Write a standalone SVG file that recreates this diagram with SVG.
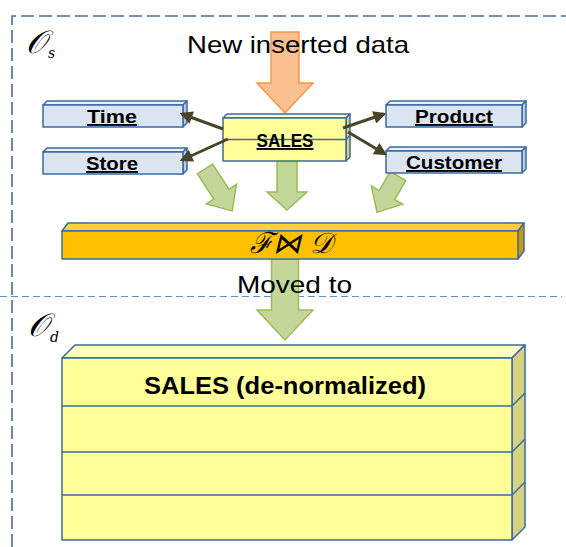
<svg xmlns="http://www.w3.org/2000/svg" width="566" height="547" viewBox="0 0 566 547">
<defs>
<style>
.frame{fill:none;stroke:#4a6d96;stroke-width:1.6;stroke-dasharray:13 5}
.split{fill:none;stroke:#5b8fd0;stroke-width:1.2;stroke-dasharray:7 4}
.edge{stroke:#3d6aa0;stroke-width:1.5;stroke-linejoin:round}
.dimF{fill:#dbe5f1}.dimT{fill:#eaf0f8}.dimR{fill:#b8cce4}
.yF{fill:#ffff99}.yT{fill:#ffffc4}.yR{fill:#d6d282}
.gF{fill:#ffc000}.gT{fill:#ffd040}.gR{fill:#c99a10}
.lbl{font-family:"Liberation Sans",Arial,sans-serif;font-weight:bold;font-size:19px;text-anchor:middle;text-decoration:underline;fill:#000}
.cap{font-family:"Liberation Sans",Arial,sans-serif;font-size:24px;text-anchor:middle;fill:#000}
.script{font-family:"DejaVu Serif","Liberation Serif",serif;font-style:italic;fill:#000}
.green{fill:#c4d79b;stroke:#9bbb59;stroke-width:1.5;stroke-linejoin:miter}
.orange{fill:#fac08f;stroke:#f79646;stroke-width:1.5}
.link{stroke:#4a452a;stroke-width:3;fill:none;marker-end:url(#ah)}
</style>
<marker id="ah" viewBox="0 0 10 10" refX="8" refY="5" markerUnits="userSpaceOnUse" markerWidth="14" markerHeight="13" orient="auto">
<path d="M0,0 L10,5 L0,10 Z" fill="#4a452a"/>
</marker>
</defs>

<!-- frames -->
<path class="frame" d="M12,547 V16 H566"/>
<path class="split" d="M0,296.5 H562"/>

<!-- block arrows (connectors) -->
<g id="block-arrows">
<path class="orange" d="M271,32 H299 V83 H313 L285,113 L257,83 H271 Z"/>
<path class="green" d="M277,155 H297 V192 H307 L287,210 L267,192 H277 Z"/>
<path class="green" transform="translate(205,169) rotate(-33)" d="M-9,0 H9 V30 H18 L0,50 L-18,30 H-9 Z"/>
<path class="green" transform="translate(398,176) rotate(30)" d="M-9,0 H9 V22 H18 L0,42 L-18,22 H-9 Z"/>
<path class="green" d="M271.5,259 H298.5 V310 H313 L285,340 L257,310 H271.5 Z"/>
</g>

<text class="cap" x="298" y="53" textLength="222" lengthAdjust="spacingAndGlyphs">New inserted data</text>

<g id="os-label">
<text class="script" x="26" y="53" font-size="32">𝒪</text>
<text class="script" x="48" y="58" font-size="14">s</text>
</g>
<g id="od-label">
<text class="script" x="28" y="336" font-size="32">𝒪</text>
<text class="script" x="50" y="342" font-size="14">d</text>
</g>

<!-- dimension nodes -->
<g id="time">
<path class="edge dimT" d="M43,105 L47,101 H187 L183,105 Z"/>
<path class="edge dimR" d="M183,105 L187,101 V123 L183,127 Z"/>
<rect class="edge dimF" x="43" y="105" width="140" height="22"/>
<text class="lbl" x="112" y="123" textLength="50" lengthAdjust="spacingAndGlyphs">Time</text>
</g>
<g id="store">
<path class="edge dimT" d="M43,152 L47,148 H187 L183,152 Z"/>
<path class="edge dimR" d="M183,152 L187,148 V170 L183,174 Z"/>
<rect class="edge dimF" x="43" y="152" width="140" height="22"/>
<text class="lbl" x="112" y="170" textLength="52" lengthAdjust="spacingAndGlyphs">Store</text>
</g>
<g id="product">
<path class="edge dimT" d="M386,105 L390,101 H526 L522,105 Z"/>
<path class="edge dimR" d="M522,105 L526,101 V123 L522,127 Z"/>
<rect class="edge dimF" x="386" y="105" width="136" height="22"/>
<text class="lbl" x="454" y="123" textLength="78" lengthAdjust="spacingAndGlyphs">Product</text>
</g>
<g id="customer">
<path class="edge dimT" d="M386,151 L390,147 H526 L522,151 Z"/>
<path class="edge dimR" d="M522,151 L526,147 V169 L522,173 Z"/>
<rect class="edge dimF" x="386" y="151" width="136" height="22"/>
<text class="lbl" x="454" y="169" textLength="96" lengthAdjust="spacingAndGlyphs">Customer</text>
</g>

<!-- fact node -->
<g id="sales">
<path class="edge yT" d="M223,118 L227,114 H350 L346,118 Z"/>
<path class="edge yR" d="M346,118 L350,114 V157 L346,161 Z"/>
<path class="edge" d="M346,139.5 L350,135.5" fill="none"/>
<rect class="edge yF" x="223" y="118" width="123" height="43"/>
<path class="edge" d="M223,139.5 H346" fill="none"/>
<text class="lbl" x="285" y="147" textLength="57" lengthAdjust="spacingAndGlyphs">SALES</text>
</g>

<!-- join bar -->
<g id="join">
<path class="edge gT" d="M62,231 L68,223 H524 L518,231 Z"/>
<path class="edge gR" d="M518,231 L524,223 V251 L518,259 Z"/>
<rect class="edge gF" x="62" y="231" width="456" height="28"/>
<text class="script" x="291" y="253" font-size="29" text-anchor="middle" textLength="82" lengthAdjust="spacingAndGlyphs">ℱ⋈ 𝒟</text>
</g>

<text class="cap" x="294.5" y="293" textLength="115" lengthAdjust="spacingAndGlyphs">Moved to</text>

<!-- denormalized table -->
<g id="sales-denorm">
<path class="edge yT" d="M62,358 L75,345 H525 L512,358 Z"/>
<path class="edge yR" d="M512,358 L525,345 V527 L512,540 Z"/>
<path class="edge" fill="none" d="M512,406 L525,393 M512,452 L525,439 M512,495 L525,482"/>
<rect class="edge yF" x="62" y="358" width="450" height="182"/>
<path class="edge" fill="none" d="M62,406 H512 M62,452 H512 M62,495 H512"/>
<text x="285" y="394" font-family="Liberation Sans,Arial,sans-serif" font-weight="bold" font-size="24" text-anchor="middle" textLength="282" lengthAdjust="spacingAndGlyphs">SALES (de-normalized)</text>
</g>

<!-- connectors -->
<g id="connectors">
<line class="link" x1="223" y1="129" x2="182" y2="114"/>
<line class="link" x1="228" y1="139" x2="182" y2="160"/>
<line class="link" x1="343" y1="128" x2="384" y2="114"/>
<line class="link" x1="348" y1="132" x2="385" y2="154"/>
</g>
</svg>
